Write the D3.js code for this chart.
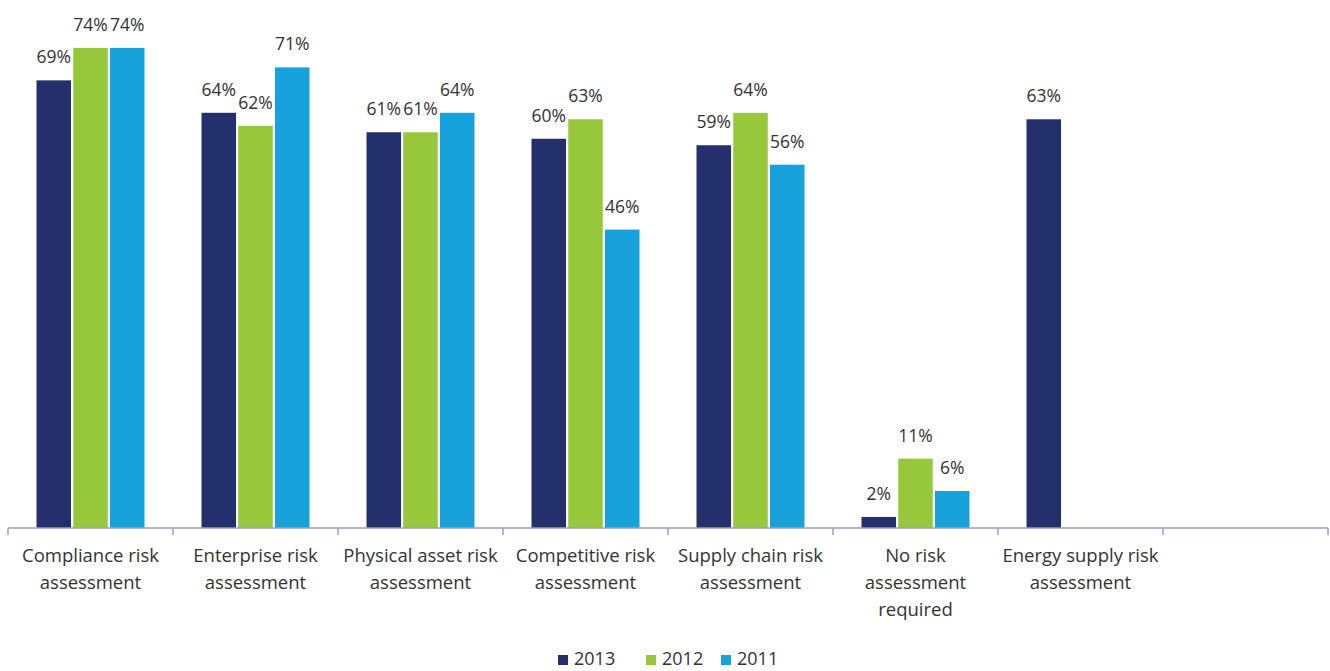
<!DOCTYPE html>
<html>
<head>
<meta charset="utf-8">
<script src="https://cdn.jsdelivr.net/npm/d3@7"></script>
<style>
  body { margin: 0; background: #fff; }
  text { font-family: "Open Sans", "Noto Sans", sans-serif; fill: #333; }
</style>
</head>
<body>
<div id="chart"></div>
<script>
var categories = [
  "Compliance risk\nassessment",
  "Enterprise risk\nassessment",
  "Physical asset risk\nassessment",
  "Competitive risk\nassessment",
  "Supply chain risk\nassessment",
  "No risk\nassessment\nrequired",
  "Energy supply risk\nassessment",
  ""
]
var series = ["2013", "2012", "2011"]
var v2013 = [69, 64, 61, 60, 59, 1.7, 63, null]
var v2012 = [74, 62, 61, 63, 64, 10.7, null, null]
var v2011 = [74, 71, 64, 46, 56, 5.7, null, null]
var colors = ["#24306b", "#97c83c", "#17a2db"]

var w = 1330, h = 671
var svg = d3.select("#chart").append("svg")
  .attr("width", w).attr("height", h)

var x0 = d3.scaleBand().domain(d3.range(categories.length)).range([8, 1328])
var groupW = 108
var x1 = d3.scaleBand().domain(series).range([0, groupW]).paddingInner(0.06)
var y = d3.scaleLinear().domain([0, 80]).range([528, 9])
var fmt = function(v) { return Math.round(v) + "%" }

var rows = categories.map(function(c, i) {
  return { i: i, vals: [v2013[i], v2012[i], v2011[i]] }
})

var groups = svg.selectAll(".grp")
  .data(rows)
  .enter().append("g")
  .attr("class", "grp")
  .attr("transform", function(d) {
    return "translate(" + (x0(d.i) + (x0.bandwidth() - groupW) / 2) + ",0)"
  })

var cells = groups.selectAll(".cell")
  .data(function(d) {
    return d.vals.map(function(v, k) { return { s: series[k], k: k, v: v } })
      .filter(function(e) { return e.v != null })
  })
  .enter()

cells.append("rect")
  .attr("x", function(d) { return x1(d.s) })
  .attr("width", x1.bandwidth())
  .attr("y", function(d) { return y(d.v) })
  .attr("height", function(d) { return y(0) - y(d.v) })
  .attr("fill", function(d) { return colors[d.k] })

cells.append("text")
  .attr("x", function(d) { return x1(d.s) + x1.bandwidth() / 2 })
  .attr("y", function(d) { return y(d.v) - 17 })
  .attr("text-anchor", "middle")
  .attr("font-size", 17.5)
  .text(function(d) { return fmt(d.v) })

// axis line with ticks at band edges
var axisColor = "#9a9fc2"
svg.append("line")
  .attr("x1", x0.range()[0]).attr("x2", x0.range()[1])
  .attr("y1", y(0)).attr("y2", y(0))
  .attr("stroke", axisColor).attr("stroke-width", 1.5)

var edges = x0.domain().map(function(d) { return x0(d) }).concat([x0.range()[1]])
svg.selectAll(".tick")
  .data(edges)
  .enter().append("line")
  .attr("x1", function(d) { return d }).attr("x2", function(d) { return d })
  .attr("y1", y(0)).attr("y2", y(0) + 7)
  .attr("stroke", axisColor).attr("stroke-width", 1.5)

var labels = svg.selectAll(".cat")
  .data(categories)
  .enter().append("text")
  .attr("class", "cat")
  .attr("text-anchor", "middle")
  .attr("font-size", 18.5)
labels.each(function(d, i) {
  var t = d3.select(this)
  d.split("\n").forEach(function(line, j) {
    t.append("tspan")
      .attr("x", x0(i) + x0.bandwidth() / 2)
      .attr("y", 562 + j * 27)
      .text(line)
  })
})

// legend
var legendX = [558, 646, 721]
var leg = svg.selectAll(".leg")
  .data(series)
  .enter().append("g")
  .attr("transform", function(d, i) { return "translate(" + legendX[i] + ",655)" })
leg.append("rect")
  .attr("width", 10).attr("height", 10)
  .attr("fill", function(d, i) { return colors[i] })
leg.append("text")
  .attr("x", 16).attr("y", 10)
  .attr("font-size", 18)
  .text(function(d) { return d })
</script>
</body>
</html>
